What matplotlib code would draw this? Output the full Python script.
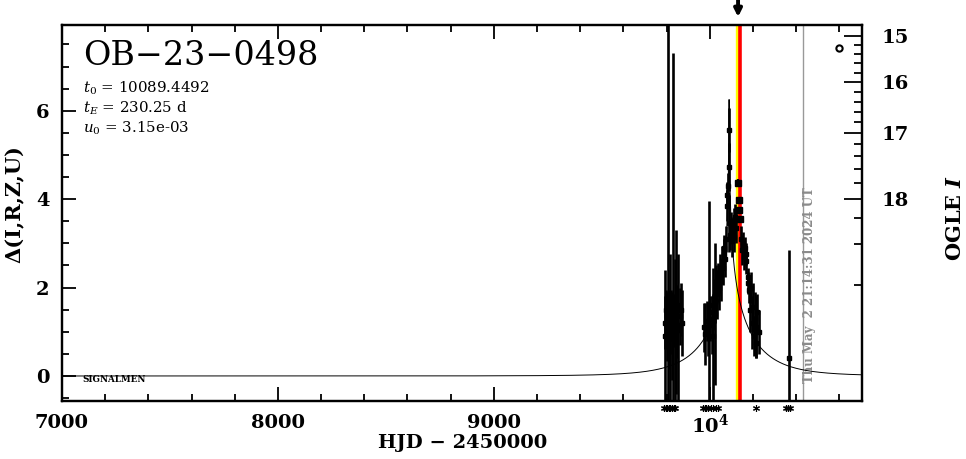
import numpy as np
import matplotlib
matplotlib.use("Agg")
import matplotlib.pyplot as plt
from matplotlib.ticker import MultipleLocator

# ---------------- data ----------------
event_name = "OB\u221223\u22120498"
t0 = 10089.4492
tE = 230.25
u0 = 3.15e-3

# photometry: HJD-2450000, delta mag, error
t_obs = [9791, 9794, 9797, 9800, 9803, 9806, 9809, 9812, 9815, 9819, 9823, 9827,
         9830, 9834, 9838, 9842, 9846, 9850, 9855, 9860, 9866, 9871,
         9972, 9980, 9988, 9993, 9998, 10003, 10008, 10013, 10017, 10022, 10026,
         10030, 10034, 10038, 10042, 10046, 10050, 10055, 10060, 10064, 10068,
         10072, 10076, 10079, 10082, 10085, 10088, 10089, 10091, 10094, 10098,
         10102, 10106, 10110, 10114, 10118, 10122,
         10145, 10150, 10154, 10158, 10162, 10166, 10170, 10175, 10179, 10183,
         10188, 10192, 10196, 10200, 10204, 10208, 10212, 10216, 10221, 10226,
         10367]
d_obs = [1.20, 0.90, 1.50, 1.10, 1.35, 1.30, 0.95, 1.55, 1.05, 1.40, 1.20, 0.85,
         1.50, 1.25, 1.00, 1.45, 1.15, 1.60, 1.05, 1.35, 1.50, 1.20,
         1.10, 0.95, 1.25, 1.05, 1.60, 1.30, 1.15, 0.90, 1.45, 1.70, 1.40,
         2.05, 1.85, 2.20, 2.00, 2.35, 2.15, 2.60, 2.45, 2.75, 2.90,
         2.65, 3.10, 4.10, 3.85, 4.30, 5.56, 4.73, 3.45, 3.20, 3.40,
         3.05, 3.30, 3.50, 3.15, 3.60, 3.35,
         3.10, 2.85, 3.00, 2.70, 2.90, 2.60, 2.75, 2.10, 2.25, 1.95,
         1.50, 2.00, 1.20, 1.55, 0.90, 1.30, 0.75, 1.10, 1.45, 1.00,
         0.40]
e_obs = [0.60, 1.50, 0.45, 0.75, 0.55, 7.00, 0.80, 0.40, 1.70, 0.55, 0.70, 0.95,
         5.80, 0.60, 1.65, 1.85, 0.75, 0.45, 1.70, 0.65, 0.60, 0.75,
         0.55, 0.70, 0.45, 0.60, 2.35, 0.50, 0.65, 1.55, 0.40, 0.50, 1.60,
         0.45, 0.55, 0.35, 0.50, 0.40, 0.45, 0.35, 0.40, 0.35, 0.30,
         0.40, 0.30, 0.30, 0.35, 0.30, 0.50, 0.55, 0.65, 0.35, 0.30,
         0.35, 0.30, 0.30, 0.35, 0.30, 0.35,
         0.30, 0.35, 0.25, 0.30, 0.25, 0.30, 0.25, 0.25, 0.20, 0.30,
         0.50, 0.35, 0.60, 0.55, 0.45, 0.60, 0.35, 0.70, 0.40, 0.50,
         2.45]

# recent precise points (large squares)
t_recent = [10131, 10134, 10136, 10138]
d_recent = [4.37, 3.98, 3.75, 3.55]
e_recent = [0.08, 0.08, 0.08, 0.08]

# epochs of points below the plotted range
t_low = [9790, 9797, 9804, 9811, 9818, 9826, 9833, 9841,
         9968, 9976, 9984, 9992, 10005, 10015, 10030, 10040,
         10213, 10355, 10362, 10372]

t_yellow = 10126
t_red = 10138.5
t_arrow = 10131
t_now = 10433.4
now_label = "Thu May  2 21:14:31 2024 UT"

ogle_major = [15, 16, 17, 18]
ogle_minor = [15.2, 15.4, 15.6, 15.8, 16.2, 16.4, 16.6, 16.8,
              17.2, 17.4, 17.6, 17.8, 18.2, 18.4, 18.6]
mag_ref, delta_ref, blend = 18.0, 4.0, 0.49

x_ticks = [7000, 8000, 9000, 10000]
x_labels = ["7000", "8000", "9000", r"$\mathbf{10^4}$"]
y_ticks = [0, 2, 4, 6]


def mag_to_delta(m):
    m = np.asarray(m, dtype=float)
    f = 10 ** (-0.4 * (m - mag_ref))
    return delta_ref + 2.5 * np.log10((f - blend) / (1 - blend))


def pacz(t):
    u = np.sqrt(u0 ** 2 + ((t - t0) / tE) ** 2)
    A = (u ** 2 + 2) / (u * np.sqrt(u ** 2 + 4))
    return 2.5 * np.log10(A)


# ---------------- figure ----------------
plt.rcParams['mathtext.fontset'] = 'dejavuserif'
SERIF = 'DejaVu Serif'
fig = plt.figure(figsize=(9.66, 4.59), dpi=100)
W, H = 966, 459
ax = fig.add_axes([62 / W, 58 / H, 800 / W, 376 / H])
ax.set_xlim(7000, 10705)
ax.set_ylim(-0.566, 7.941)

# vertical markers
ax.axvline(t_yellow, color='#ffff00', lw=2.4, zorder=2)
ax.axvline(t_red, color='#ff0000', lw=2.6, zorder=2)
ax.axvline(t_now, color='#999999', lw=1.0, zorder=1)

# model
tm = np.concatenate([np.linspace(7000, 10705, 4000), np.linspace(t0 - 5, t0 + 5, 2001)])
tm.sort()
ax.plot(tm, pacz(tm), color='black', lw=0.7, zorder=3)

# data
ax.errorbar(t_obs, d_obs, yerr=e_obs, fmt='s', color='black', ms=2.5,
            elinewidth=1.9, capsize=0, zorder=4)
ax.errorbar(t_recent, d_recent, yerr=e_recent, fmt='s', color='black', ms=4.5,
            elinewidth=1.6, capsize=0, zorder=5)

ax.plot(t_low, [-0.72] * len(t_low), linestyle='none', marker=(6, 2, 0),
        ms=5, mew=0.8, color='black', clip_on=False)

# OGLE open circle marker
ax.plot([10598], [7.42], 'o', mfc='none', mec='black', ms=4.5, mew=1.5)

# date label
ax.text(10462, 2.05, now_label, rotation=90, ha='center', va='center',
        color='#8a8a8a', fontsize=8.5, family=SERIF, weight='bold', zorder=2)

# texts
ax.text(0.026, 0.9176, event_name, transform=ax.transAxes, fontsize=24,
        family=SERIF, va='center', ha='left')
ax.text(0.026, 0.8324, r'$t_0$ = %.4f' % t0, transform=ax.transAxes,
        fontsize=10.8, family=SERIF, va='center')
ax.text(0.026, 0.7793, r'$t_E$ = %.2f d' % tE, transform=ax.transAxes,
        fontsize=10.8, family=SERIF, va='center')
ax.text(0.026, 0.7261, r'$u_0$ = %.2e' % u0, transform=ax.transAxes,
        fontsize=10.8, family=SERIF, va='center')
ax.text(0.026, 0.057, 'SIGNALMEN', transform=ax.transAxes, fontsize=6.3,
        family=SERIF, weight='bold', va='center')

# arrow above plot
ax.annotate('', xy=(t_arrow, 1 + 8 / 376), xycoords=('data', 'axes fraction'),
            xytext=(t_arrow, 1 + 27 / 376), textcoords=('data', 'axes fraction'),
            arrowprops=dict(arrowstyle='-|>', lw=2.8, color='black',
                            mutation_scale=11, shrinkA=0, shrinkB=0))

# axes styling
for s in ax.spines.values():
    s.set_linewidth(1.6)
ax.set_xticks(x_ticks)
ax.set_xticklabels(x_labels)
ax.xaxis.set_minor_locator(MultipleLocator(200))
ax.set_yticks(y_ticks)
ax.yaxis.set_minor_locator(MultipleLocator(0.5))
ax.tick_params(which='both', direction='in', top=True, right=False, width=1.3)
ax.tick_params(which='major', length=10, labelsize=14, pad=9)
ax.tick_params(which='minor', length=5)
for lab in ax.get_xticklabels() + ax.get_yticklabels():
    lab.set_family(SERIF)
    lab.set_weight('bold')

ax2 = ax.twinx()
ax2.set_ylim(ax.get_ylim())
ax2.set_yticks(mag_to_delta(ogle_major))
ax2.set_yticklabels([str(m) for m in ogle_major])
ax2.set_yticks(mag_to_delta(ogle_minor), minor=True)
ax2.tick_params(which='both', direction='in', width=1.3)
ax2.tick_params(which='major', length=13, labelsize=14, pad=14)
ax2.tick_params(which='minor', length=6)
for lab in ax2.get_yticklabels():
    lab.set_family(SERIF)
    lab.set_weight('bold')
for s in ax2.spines.values():
    s.set_linewidth(1.6)

fig.text(463 / W, 1 - 443 / H, 'HJD \u2212 2450000', ha='center', va='center',
         fontsize=14, family=SERIF, weight='bold')
fig.text(15 / W, 1 - 204 / H, '\u0394(I,R,Z,U)', ha='center', va='center',
         rotation=90, fontsize=15, family=SERIF, weight='bold')
fig.text(955 / W, 1 - 218 / H, r'OGLE $\mathbfit{I}$', ha='center', va='center',
         rotation=90, fontsize=15, family=SERIF, weight='bold')

fig.savefig('out.png', dpi=100)
